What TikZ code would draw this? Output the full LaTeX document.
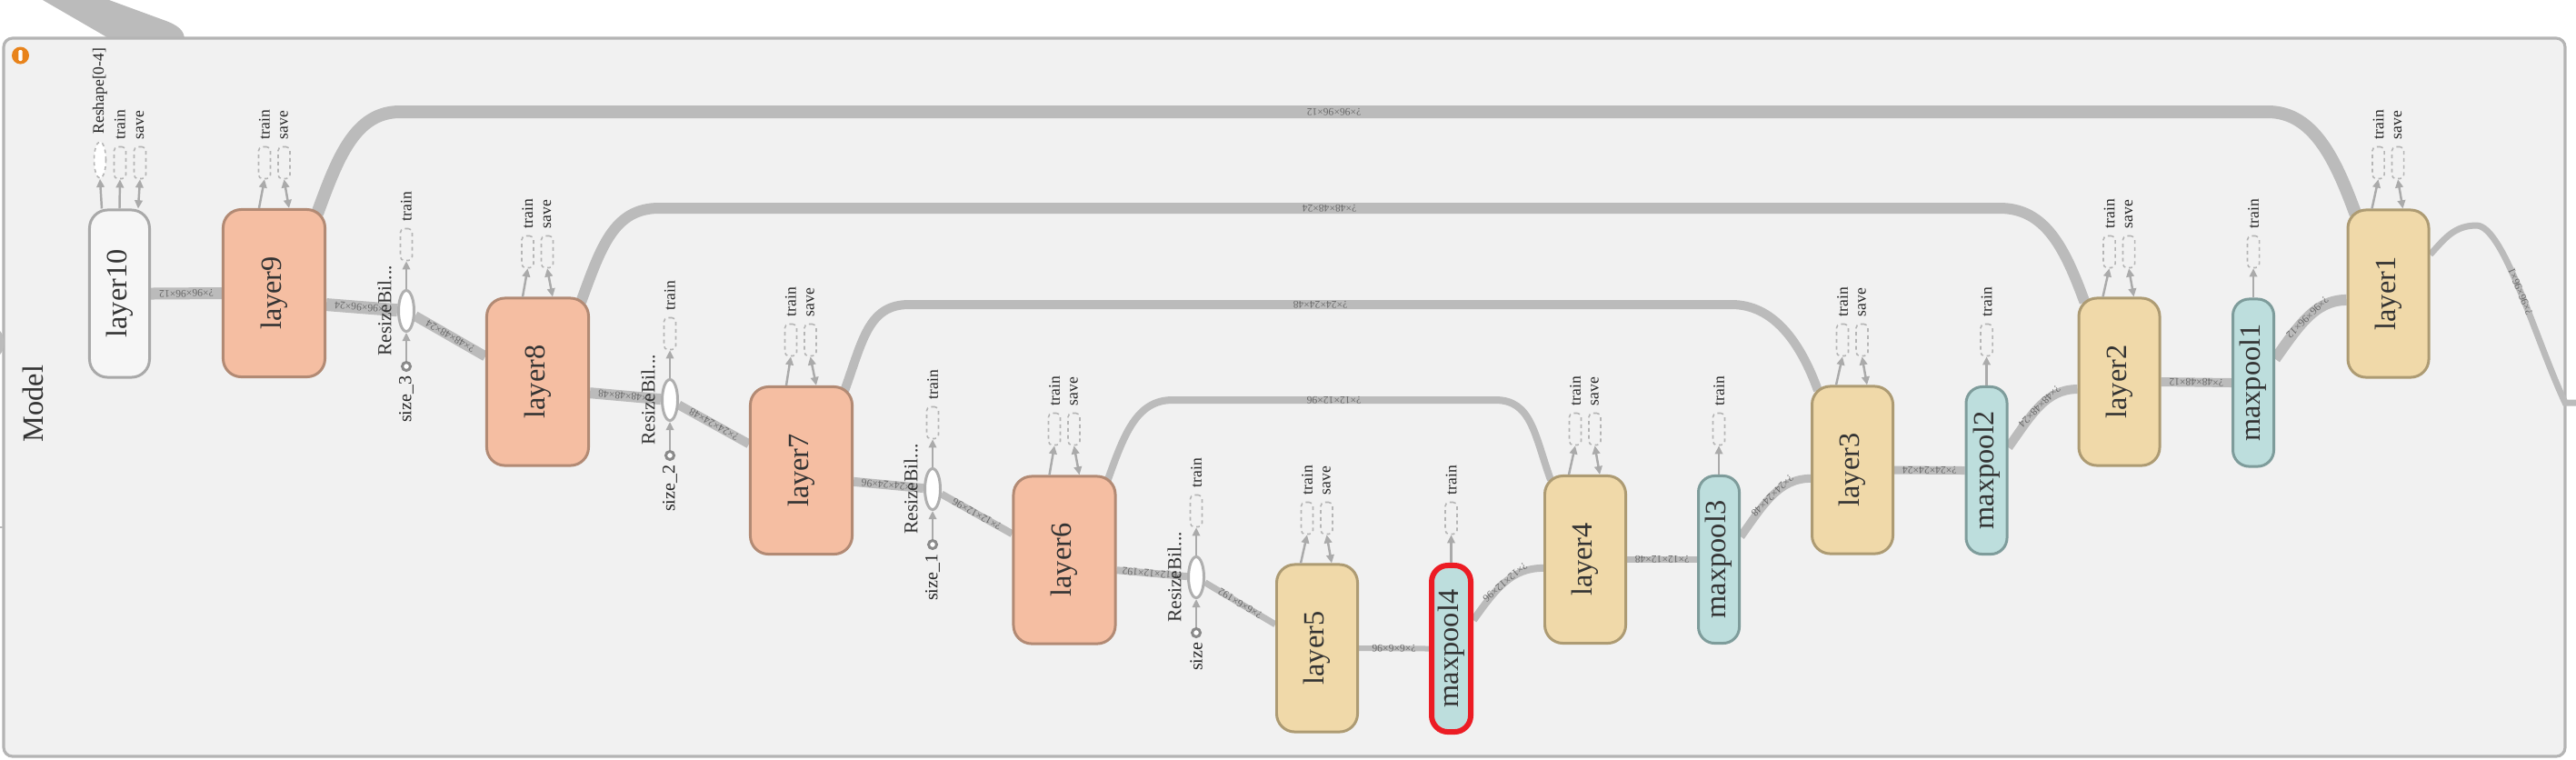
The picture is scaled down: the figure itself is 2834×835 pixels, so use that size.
\documentclass[tikz,border=0pt]{standalone}
\usepackage{fontspec}
\setmainfont{Liberation Serif}
\usetikzlibrary{calc,arrows.meta,shapes.geometric}
\pgfdeclarelayer{bg}
\pgfdeclarelayer{edges}
\pgfsetlayers{bg,edges,main}
\definecolor{cont}{HTML}{F1F1F1}
\definecolor{contb}{HTML}{B4B4B4}
\definecolor{edgec}{HTML}{BBBBBB}
\definecolor{salf}{HTML}{F5BEA2}
\definecolor{sald}{HTML}{B28A74}
\definecolor{tanf}{HTML}{F0D9A9}
\definecolor{tand}{HTML}{AD9B73}
\definecolor{tealf}{HTML}{BDDEDD}
\definecolor{teald}{HTML}{7E9C9B}
\definecolor{l10f}{HTML}{F6F6F6}
\definecolor{l10d}{HTML}{A9A9A9}
\definecolor{redh}{HTML}{EC1C24}
\definecolor{dashc}{HTML}{B5B5B5}
\definecolor{arrc}{HTML}{AAAAAA}
\definecolor{rszd}{HTML}{AFAFAF}
\definecolor{szd}{HTML}{8A8A8A}
\definecolor{lblc}{HTML}{6A6A6A}
\definecolor{txtc}{HTML}{333333}
\definecolor{orng}{HTML}{E8831B}
\newcommand{\fsL}{\fontsize{9.2pt}{10pt}\selectfont}
\newcommand{\fsR}{\fontsize{6.1pt}{7pt}\selectfont}
\newcommand{\fsS}{\fontsize{5.7pt}{6.5pt}\selectfont}
\newcommand{\fsT}{\fontsize{5.0pt}{6pt}\selectfont}
\newcommand{\fsE}{\fontsize{3.3pt}{3.6pt}\selectfont}
\tikzset{
 lnode/.style={draw, line width=0.85pt, inner sep=0pt, font=\fsL, text=txtc, minimum height=1.84cm},
 salmonbox/.style={lnode, fill=salf, draw=sald, rounded corners=5.7pt, minimum width=1.12cm},
 tanbox/.style={lnode, fill=tanf, draw=tand, rounded corners=5.7pt, minimum width=0.89cm},
 tealbox/.style={lnode, fill=tealf, draw=teald, rounded corners=5.1pt, minimum width=0.45cm},
 greybox/.style={lnode, fill=l10f, draw=l10d, rounded corners=5.7pt, minimum width=0.66cm},
 dbox/.style={draw=dashc, line width=0.45pt, dash pattern=on 1.1pt off 1.1pt, rounded corners=1.2pt, minimum width=0.13cm, minimum height=0.35cm, inner sep=0pt},
 rsz/.style={ellipse, draw=rszd, fill=white, line width=0.85pt, minimum width=0.17cm, minimum height=0.45cm, inner sep=0pt},
 szc/.style={circle, draw=szd, fill=white, line width=0.85pt, minimum size=0.09cm, inner sep=0pt},
 arr/.style={draw=arrc, line width=0.7pt, -{Triangle[length=2.6pt,width=2.4pt]}},
 arrtwo/.style={draw=arrc, line width=0.7pt, {Triangle[length=2.6pt,width=2.4pt]}-{Triangle[length=2.6pt,width=2.4pt]}},
 flow/.style={draw=edgec, line width=#1*0.2845pt},
 elab/.style={midway, sloped, allow upside down, inner sep=0pt, font=\fsE, text=lblc},
 tlab/.style={rotate=90, anchor=west, inner sep=0pt, font=\fsT, text=black!85},
 rlab/.style={rotate=90, inner sep=0pt, font=\fsR, text=black!80},
 slab/.style={rotate=90, anchor=east, inner sep=0pt, font=\fsS, text=black!85},
}
\begin{document}
\begin{tikzpicture}[x=0.01cm,y=-0.01cm]
\useasboundingbox (0,0) rectangle (2834,835);

% ---------- main nodes
\node[greybox] (l10) at (131.5,323) {\rotatebox{90}{layer10}};
\node[salmonbox] (l9) at (301.5,322.5) {\rotatebox{90}{layer9}};
\node[salmonbox] (l8) at (591.5,420) {\rotatebox{90}{layer8}};
\node[salmonbox] (l7) at (881.5,517.5) {\rotatebox{90}{layer7}};
\node[salmonbox] (l6) at (1171,616) {\rotatebox{90}{layer6}};
\node[tanbox] (l5) at (1449,713) {\rotatebox{90}{layer5}};
\node[tealbox, draw=redh, line width=1.7pt, minimum width=0.43cm, minimum height=1.83cm] (mp4) at (1596.5,713.5) {\rotatebox{90}{maxpool4}};
\node[tanbox] (l4) at (1744,615.5) {\rotatebox{90}{layer4}};
\node[tealbox] (mp3) at (1891,615.5) {\rotatebox{90}{maxpool3}};
\node[tanbox] (l3) at (2038,517) {\rotatebox{90}{layer3}};
\node[tealbox] (mp2) at (2185.5,517.5) {\rotatebox{90}{maxpool2}};
\node[tanbox] (l2) at (2331.5,420) {\rotatebox{90}{layer2}};
\node[tealbox] (mp1) at (2479,421) {\rotatebox{90}{maxpool1}};
\node[tanbox] (l1) at (2627.5,323) {\rotatebox{90}{layer1}};

% ---------- layer10 accessories
\node[dbox, ellipse, fill=white, minimum height=0.40cm] (l10-r) at (110,176) {};
\node[dbox] (l10-t) at (132,179) {};
\node[dbox] (l10-s) at (154,179) {};
\node[tlab] (l10-rl) at ($(l10-r.north)+(0,-7)$) {Reshape[0-4]};
\node[tlab] (l10-tl) at ($(l10-t.north)+(0,-7)$) {train};
\node[tlab] (l10-sl) at ($(l10-s.north)+(0,-7)$) {save};
\draw[arr] ($(l10.north west)+(15,0)$) -- (l10-r.south);
\draw[arr] (l10.north) -- (l10-t.south);
\draw[arrtwo] ($(l10.north west)+(55,0)$) -- (l10-s.south);

% ---------- layer accessories
\foreach \n/\tx/\cy/\oa/\ob in {l9/291/179/41/74, l8/580.5/277/41/74, l7/870/374/41/74, l6/1160/472/41/74, l5/1438/570/28/62, l4/1733/472/28/62, l3/2027/374/28/62, l2/2320.5/277/28/62, l1/2616.5/179/28/62}{
  \node[dbox] (\n-t) at (\tx,\cy) {};
  \node[dbox] (\n-s) at (\tx+21.5,\cy) {};
  \node[tlab] (\n-tl) at ($(\n-t.north)+(0,-7)$) {train};
  \node[tlab] (\n-sl) at ($(\n-s.north)+(0,-7)$) {save};
  \draw[arr] ($(\n.north west)+(\oa,0)$) -- (\n-t.south);
  \draw[arrtwo] ($(\n.north west)+(\ob,0)$) -- (\n-s.south);
}
\foreach \n/\tx/\cy in {mp1/2479/277, mp2/2185.5/374, mp3/1891/472, mp4/1596.5/570}{
  \node[dbox] (\n-t) at (\tx,\cy) {};
  \node[tlab] (\n-tl) at ($(\n-t.north)+(0,-7)$) {train};
  \draw[arr] (\n.north) -- (\n-t.south);
}
% ---------- resize nodes
\foreach \n/\rx/\ry/\sl in {r3/447/342/size\_3, r2/737/440/size\_2, r1/1026/538/size\_1, r0/1316/635/size}{
  \node[rsz] (\n) at (\rx,\ry) {};
  \node[szc] (\n-c) at (\rx,\ry+61) {};
  \node[dbox] (\n-t) at (\rx,\ry-73) {};
  \node[rlab] (\n-l) at (\rx-24,\ry) {ResizeBil...};
  \node[slab] (\n-sl) at ($(\n-c.south)+(0,4)$) {\sl};
  \node[tlab] (\n-tl) at ($(\n-t.north)+(0,-7)$) {train};
  \draw[arr] (\n-c.north) -- (\n.south);
  \draw[arr] (\n.north) -- (\n-t.south);
}

% ---------- container and decorations
\node[rotate=90, font=\fsL, text=txtc, inner sep=0pt] (model) at (36,444) {Model};
\fill[orng] (22.5,61) circle (0.095cm);
\fill[white, rounded corners=0.4pt] (20.3,55) rectangle (24.7,67);

\begin{pgfonlayer}{bg}
\fill[edgec] (47,0) -- (120,0) -- (180,22) .. controls (197,28) and (203,34) .. (203,44) -- (123,44) -- cycle;
\draw[fill=cont, draw=contb, line width=0.9pt, rounded corners=2.8pt] (4,42) rectangle (2822,832);
\end{pgfonlayer}

% ---------- edges
\begin{pgfonlayer}{edges}
\fill[edgec] (0,364) .. controls (6,370) and (6,384) .. (0,390) -- cycle;
\draw[edgec, line width=0.4pt] (0,580) -- (3,580);
% skip connections
\draw[flow=14] ($(l1.north west)+(10,6)$) .. controls +(-22,-60) and +(50,0) .. (2495,123) -- node[elab]{?×96×96×12} (440,123) .. controls +(-50,0) and +(22,-60) .. ($(l9.north east)+(-10,6)$);
\draw[flow=12] ($(l2.north west)+(8,6)$) .. controls +(-22,-60) and +(50,0) .. (2200,229) -- node[elab]{?×48×48×24} (725,229) .. controls +(-50,0) and +(22,-60) .. ($(l8.north east)+(-10,6)$);
\draw[flow=10] ($(l3.north west)+(8,6)$) .. controls +(-20,-55) and +(45,0) .. (1905,335) -- node[elab]{?×24×24×48} (1000,335) .. controls +(-45,0) and +(20,-55) .. ($(l7.north east)+(-10,6)$);
\draw[flow=8] ($(l4.north west)+(8,6)$) .. controls +(-18,-50) and +(40,0) .. (1645,440) -- node[elab]{?×12×12×96} (1290,440) .. controls +(-40,0) and +(18,-50) .. ($(l6.north east)+(-10,6)$);
% main chain
\draw[flow=13] (l9.west) -- node[elab]{?×96×96×12} (l10.east);
\draw[flow=14] (r3) -- node[elab]{?×96×96×24} ($(l9.north east)!0.567!(l9.south east)$);
\draw[flow=11] ($(l8.north west)!0.35!(l8.south west)$) -- node[elab]{?×48×48×24} (r3);
\draw[flow=12] (r2) -- node[elab]{?×48×48×48} ($(l8.north east)!0.565!(l8.south east)$);
\draw[flow=10] ($(l7.north west)!0.344!(l7.south west)$) -- node[elab]{?×24×24×48} (r2);
\draw[flow=10] (r1) -- node[elab]{?×24×24×96} ($(l7.north east)!0.566!(l7.south east)$);
\draw[flow=8] ($(l6.north west)!0.346!(l6.south west)$) -- node[elab]{?×12×12×96} (r1);
\draw[flow=8] (r0) -- node[elab]{?×12×12×192} ($(l6.north east)!0.56!(l6.south east)$);
\draw[flow=7] ($(l5.north west)!0.36!(l5.south west)$) -- node[elab]{?×6×6×192} (r0);
\draw[flow=6] (mp4.west) -- node[elab]{?×6×6×96} (l5.east);
\draw[flow=8] ($(l4.north west)!0.55!(l4.south west)$) .. controls +(-35,0) and +(25,-35) .. node[elab]{?×12×12×96} ($(mp4.north east)!0.334!(mp4.south east)$);
\draw[flow=7] (mp3.west) -- node[elab]{?×12×12×48} (l4.east);
\draw[flow=9] ($(l3.north west)!0.55!(l3.south west)$) .. controls +(-35,0) and +(25,-35) .. node[elab]{?×24×24×48} ($(mp3.north east)!0.365!(mp3.south east)$);
\draw[flow=9] (mp2.west) -- node[elab]{?×24×24×24} (l3.east);
\draw[flow=10] ($(l2.north west)!0.543!(l2.south west)$) .. controls +(-35,0) and +(25,-35) .. node[elab]{?×48×48×24} ($(mp2.north east)!0.364!(mp2.south east)$);
\draw[flow=10] (mp1.west) -- node[elab]{?×48×48×12} (l2.east);
\draw[flow=12] ($(l1.north west)!0.537!(l1.south west)$) .. controls +(-35,0) and +(25,-35) .. node[elab]{?×96×96×12} ($(mp1.north east)!0.36!(mp1.south east)$);
% output
\coordinate (outp) at (2834,443);
\draw[flow=7] (outp) -- (2822,443) .. controls (2790,375) and (2755,250) .. node[elab]{?×96×96×1} (2725,248) .. controls (2700,248) and (2690,262) .. ($(l1.north east)!0.27!(l1.south east)$);
\end{pgfonlayer}
\end{tikzpicture}
\end{document}
